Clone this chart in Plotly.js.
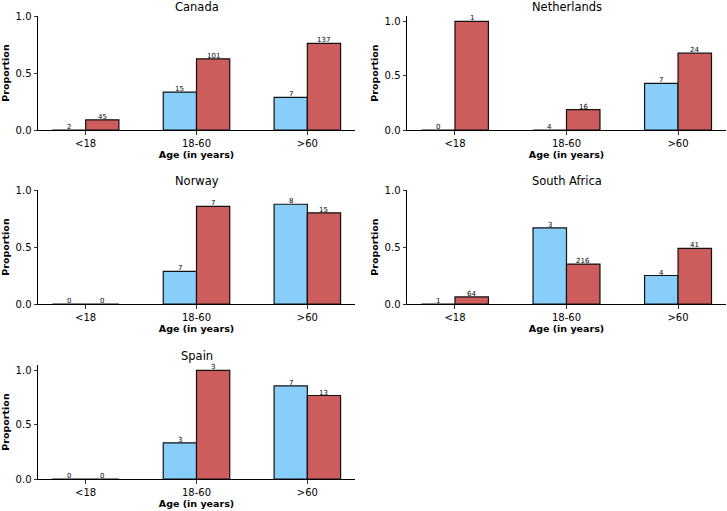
<!DOCTYPE html>
<html>
<head>
<meta charset="utf-8">
<script src="https://cdn.plot.ly/plotly-3.0.1.min.js"></script>
<style>html,body{margin:0;padding:0;background:#fff;}#chart{width:727px;height:511px;}</style>
</head>
<body>
<div id="chart"></div>
<script>
// ---- data ----
const ageGroups = ['<18', '18-60', '>60'];
const countries = ['Canada', 'Netherlands', 'Norway', 'South Africa', 'Spain'];

// proportions (blue series / red series) per age group
const canadaBlue = [0.0, 0.333, 0.286];
const canadaRed = [0.089, 0.624, 0.759];
const netherlandsBlue = [0.0, 0.0, 0.429];
const netherlandsRed = [1.0, 0.188, 0.708];
const norwayBlue = [0.0, 0.286, 0.875];
const norwayRed = [0.0, 0.857, 0.8];
const southAfricaBlue = [0.0, 0.667, 0.25];
const southAfricaRed = [0.0625, 0.35, 0.488];
const spainBlue = [0.0, 0.333, 0.857];
const spainRed = [0.0, 1.0, 0.769];

// counts shown above bars
const canadaBlueN = [2, 15, 7];
const canadaRedN = [45, 101, 137];
const netherlandsBlueN = [0, 4, 7];
const netherlandsRedN = [1, 16, 24];
const norwayBlueN = [0, 7, 8];
const norwayRedN = [0, 7, 15];
const southAfricaBlueN = [1, 3, 4];
const southAfricaRedN = [64, 216, 41];
const spainBlueN = [0, 3, 7];
const spainRedN = [0, 3, 13];

const blueSeries = [canadaBlue, netherlandsBlue, norwayBlue, southAfricaBlue, spainBlue];
const redSeries = [canadaRed, netherlandsRed, norwayRed, southAfricaRed, spainRed];
const blueCounts = [canadaBlueN, netherlandsBlueN, norwayBlueN, southAfricaBlueN, spainBlueN];
const redCounts = [canadaRedN, netherlandsRedN, norwayRedN, southAfricaRedN, spainRedN];

// ---- layout geometry ----
const W = 727, H = 511;
const colX = [[38, 355], [407, 726]];
const rowY = [[16, 130], [190, 304], [365, 479]];
const FONT = 'DejaVu Sans, sans-serif';
const blueColor = '#87CEFA';
const redColor = '#CD5C5C';

const traces = [];
const layout = {
  width: W, height: H,
  margin: {l: 0, r: 0, t: 0, b: 0},
  paper_bgcolor: '#fff', plot_bgcolor: '#fff',
  barmode: 'group', bargap: 0.4, bargroupgap: 0,
  showlegend: false,
  font: {family: FONT, color: '#000'},
  annotations: []
};

countries.forEach((c, i) => {
  const row = Math.floor(i / 2), col = i % 2;
  const sfx = i === 0 ? '' : String(i + 1);
  const xa = 'x' + sfx, ya = 'y' + sfx;
  const xd = [colX[col][0] / W, colX[col][1] / W];
  const yd = [1 - rowY[row][1] / H, 1 - rowY[row][0] / H];
  const maxVal = Math.max(...blueSeries[i], ...redSeries[i]);
  const yTop = maxVal >= 1 ? maxVal * 1.05 : 1;

  traces.push({
    type: 'bar', name: c + ' (blue)', x: ageGroups, y: blueSeries[i],
    xaxis: xa, yaxis: ya,
    marker: {color: blueColor, line: {color: '#111', width: 1.2}},
    hoverinfo: 'x+y'
  });
  traces.push({
    type: 'bar', name: c + ' (red)', x: ageGroups, y: redSeries[i],
    xaxis: xa, yaxis: ya,
    marker: {color: redColor, line: {color: '#111', width: 1.2}},
    hoverinfo: 'x+y'
  });

  layout['xaxis' + sfx] = {
    domain: xd, anchor: ya, type: 'category',
    range: [-0.43, 2.43],
    showline: true, linecolor: '#000', linewidth: 1,
    ticks: 'outside', ticklen: 3.5, tickwidth: 0.8, tickcolor: '#000',
    showgrid: false, zeroline: false,
    tickfont: {family: FONT, size: 10, color: '#000'},
    title: {text: 'Age (in years)', font: {family: FONT, size: 9.5, color: '#000', weight: 'bold'}, standoff: 3},
    automargin: false, fixedrange: true
  };
  layout['yaxis' + sfx] = {
    domain: yd, anchor: xa,
    range: [0, yTop],
    tickvals: [0, 0.5, 1], tickformat: '.1f',
    showline: true, linecolor: '#000', linewidth: 1,
    ticks: 'outside', ticklen: 3.5, tickwidth: 0.8, tickcolor: '#000',
    showgrid: false, zeroline: false,
    tickfont: {family: FONT, size: 10, color: '#000'},
    title: {text: 'Proportion', font: {family: FONT, size: 9.5, color: '#000', weight: 'bold'}, standoff: 4},
    automargin: false, fixedrange: true
  };

  // subplot title
  layout.annotations.push({
    text: c, xref: 'paper', yref: 'paper',
    x: (xd[0] + xd[1]) / 2, y: yd[1], xanchor: 'center', yanchor: 'bottom',
    yshift: 0, showarrow: false,
    font: {family: FONT, size: 11.5, color: '#000'}
  });

  // count labels
  for (let k = 0; k < ageGroups.length; k++) {
    layout.annotations.push({
      text: String(blueCounts[i][k]), xref: xa, yref: ya,
      x: k - 0.15, y: blueSeries[i][k], xanchor: 'center', yanchor: 'bottom',
      yshift: -3, showarrow: false,
      font: {family: FONT, size: 7, color: '#000'}
    });
    layout.annotations.push({
      text: String(redCounts[i][k]), xref: xa, yref: ya,
      x: k + 0.15, y: redSeries[i][k], xanchor: 'center', yanchor: 'bottom',
      yshift: -3, showarrow: false,
      font: {family: FONT, size: 7, color: '#000'}
    });
  }
});

Plotly.newPlot('chart', traces, layout, {displayModeBar: false, staticPlot: true});
</script>
</body>
</html>
